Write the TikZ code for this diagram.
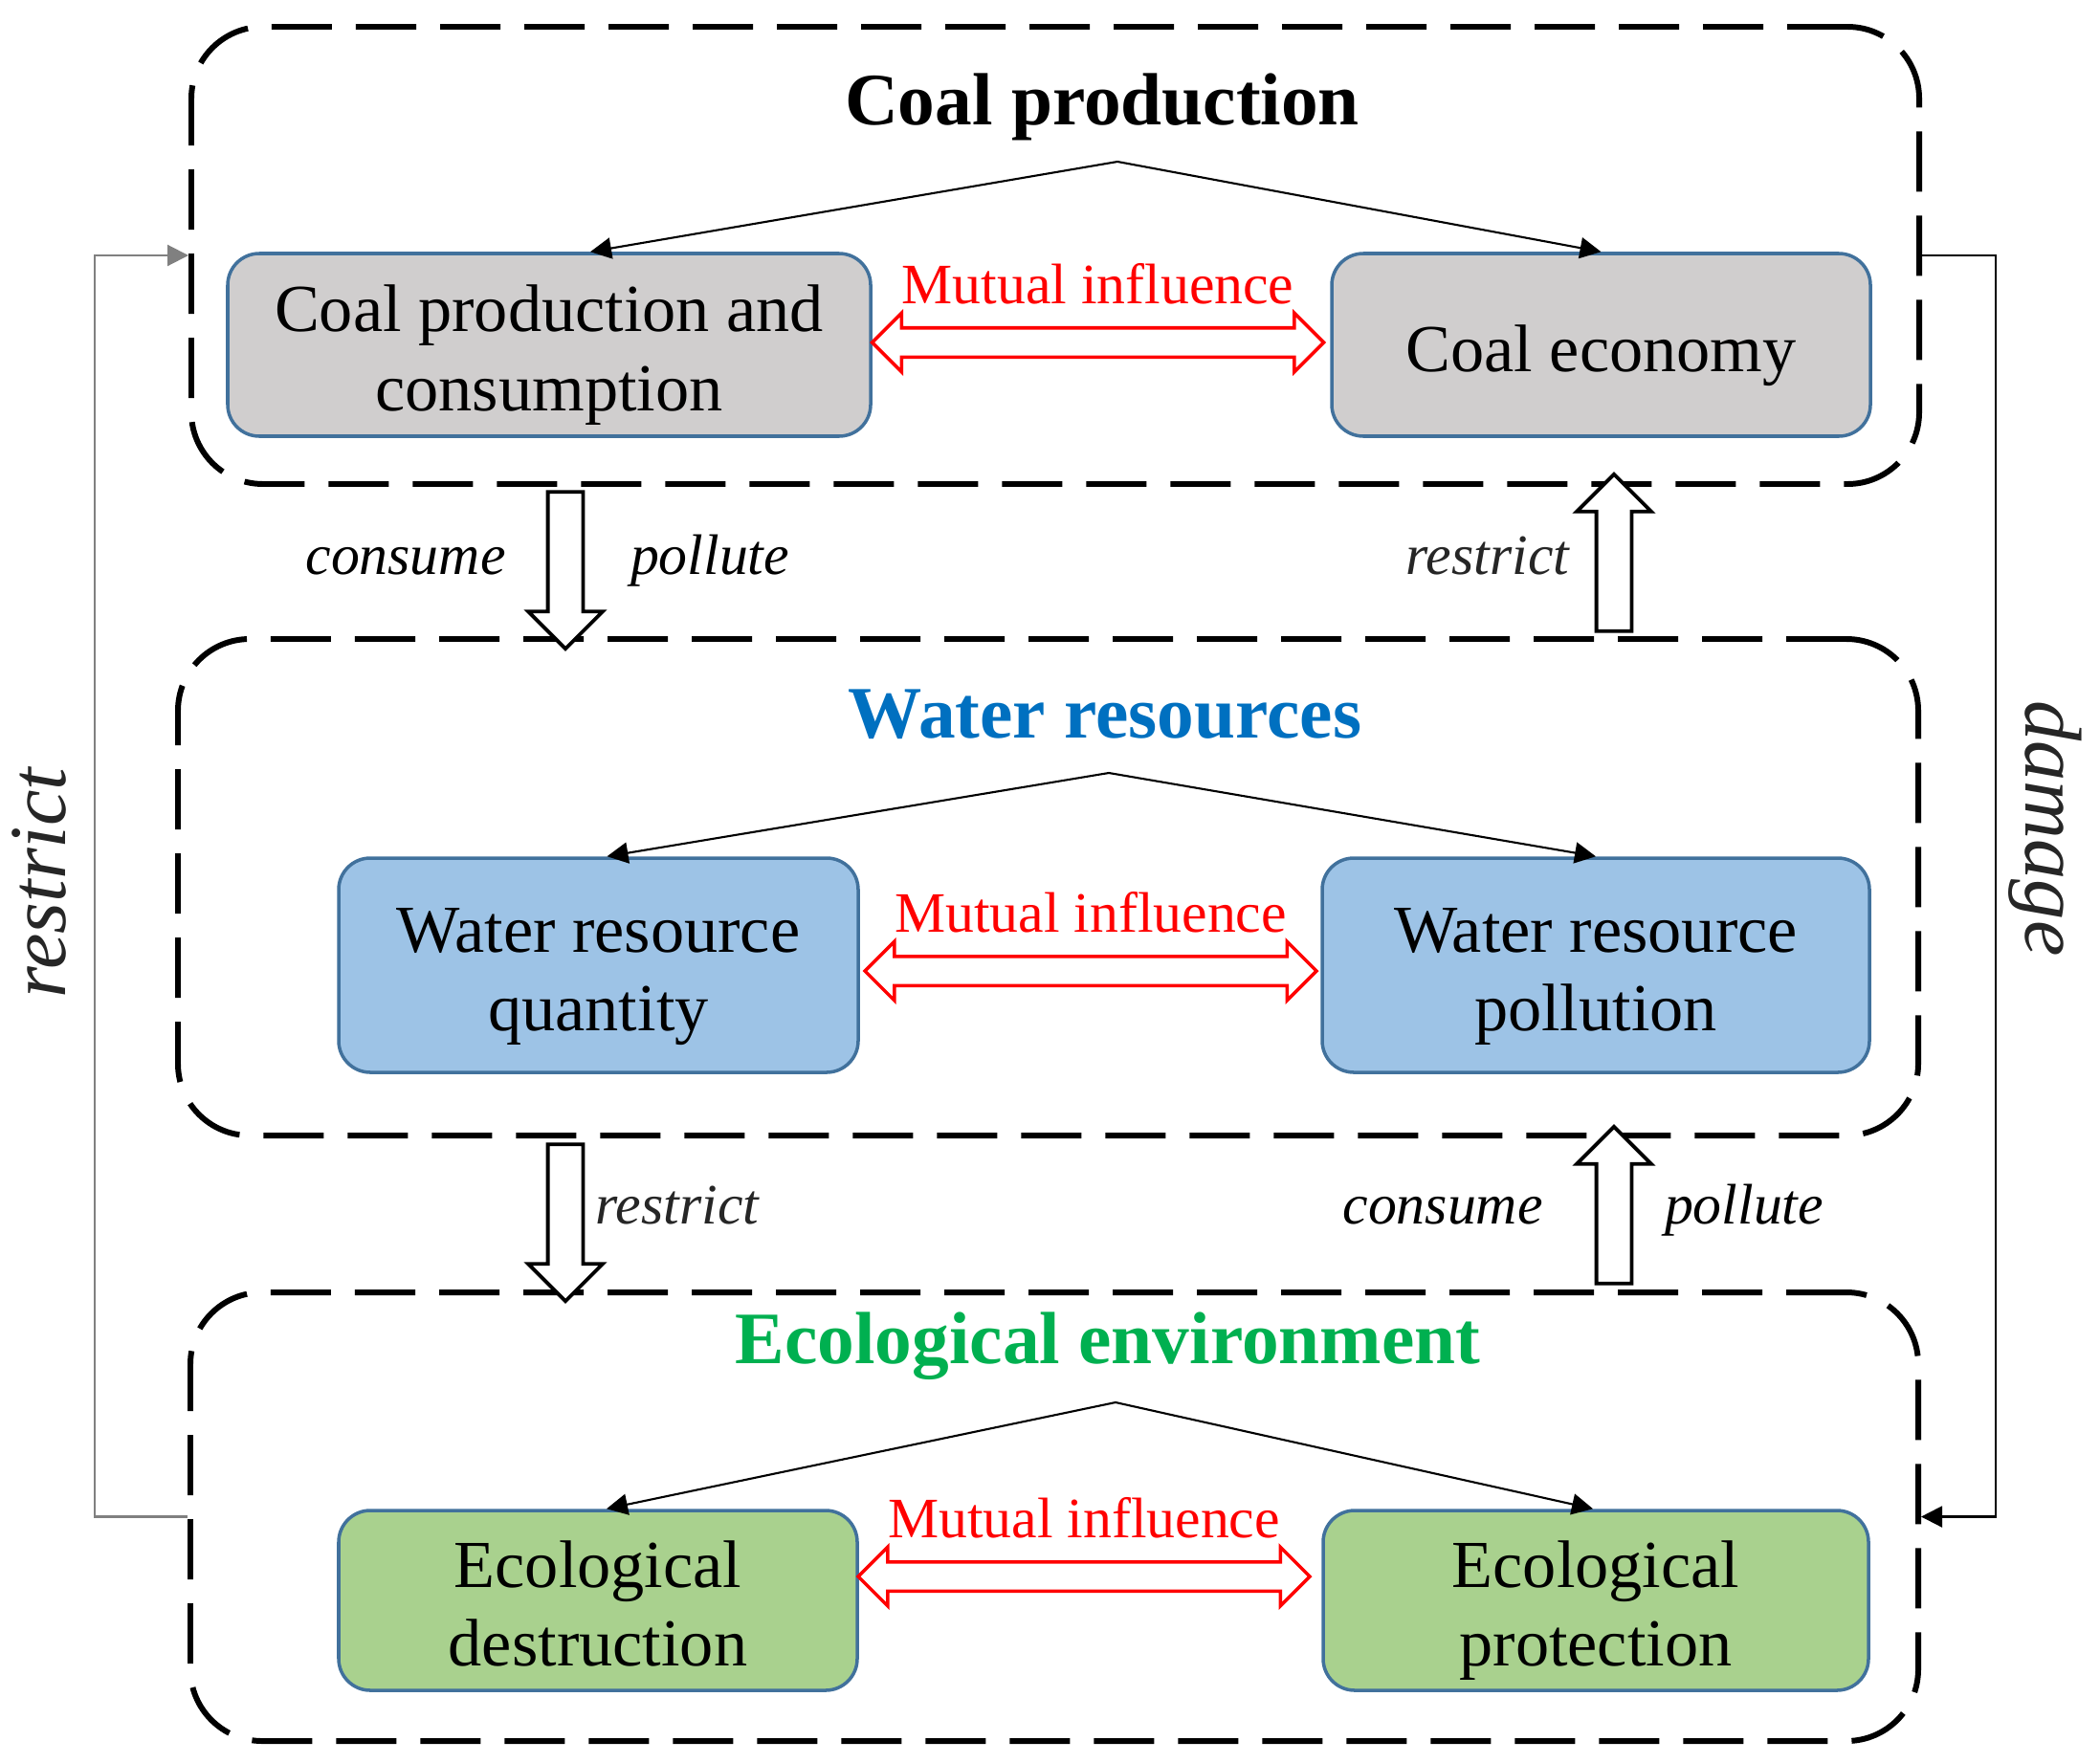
\documentclass[tikz,border=0pt]{standalone}
\usepackage{fontspec}
\setmainfont{Liberation Serif}
\usepackage{tikz}
\usetikzlibrary{arrows.meta,calc,positioning,shapes.arrows}
\definecolor{boxline}{HTML}{41719C}
\definecolor{coalfill}{HTML}{D0CECE}
\definecolor{waterfill}{HTML}{9DC3E6}
\definecolor{ecofill}{HTML}{A9D18E}
\definecolor{watertitle}{HTML}{0070C0}
\definecolor{ecotitle}{HTML}{00B050}
\newcommand{\lift}{\rule{0pt}{1em}}
\newcommand{\sink}{\rule[-0.22em]{0pt}{0.22em}}
\tikzset{
  group/.style={draw, line width=1.7pt, rounded corners=0.75cm, dash pattern=on 0.63cm off 0.25cm, inner sep=0pt},
  item/.style={draw=boxline, line width=1pt, rounded corners=0.33cm, align=center, inner sep=0pt, font=\fontsize{20}{23.5}\selectfont},
  heading/.style={font=\fontsize{22}{26}\selectfont\bfseries},
  mutual/.style={double arrow, draw=red, line width=1pt, inner xsep=0pt, inner ysep=0.135cm, double arrow head extend=0.155cm, minimum height=4.72cm},
  mutuallabel/.style={red, inner sep=0pt, font=\fontsize{17}{17}\selectfont},
  flow/.style={single arrow, draw, fill=white, line width=1.1pt, inner xsep=0pt, inner ysep=0.165cm, single arrow head extend=0.205cm, minimum height=1.64cm},
  tag/.style={anchor=base, inner sep=0pt, font=\fontsize{17}{17}\selectfont\itshape},
  bigtag/.style={anchor=base, inner sep=0pt, text=black!85, font=\fontsize{24}{24}\selectfont\itshape},
  link/.style={line width=0.6pt, -{Triangle[length=0.22cm,width=0.22cm]}},
}
\begin{document}
\begin{tikzpicture}
\useasboundingbox (0,0) rectangle (21.95,-18.42);
\node[group, minimum width=18.06cm, minimum height=4.78cm] (coalbox) at (11.03,-2.67) {};
\node[group, minimum width=18.19cm, minimum height=5.19cm] (waterbox) at (10.955,-9.275) {};
\node[group, minimum width=18.06cm, minimum height=4.69cm] (ecobox) at (11.02,-15.855) {};
\node[heading] (coaltitle) at (11.52,-1.12) {Coal production};
\node[heading, text=watertitle] (watertitle) at (11.55,-7.47) {Water resources};
\node[heading, text=ecotitle] (ecotitle) at (11.58,-14.07) {Ecological environment};
\node[item, fill=coalfill, minimum width=6.72cm, minimum height=1.91cm] (coalpc) at (5.74,-3.605) {\lift Coal production and\\consumption};
\node[item, fill=coalfill, minimum width=5.63cm, minimum height=1.91cm] (coalecon) at (16.735,-3.605) {\lift Coal economy};
\node[item, fill=waterfill, minimum width=5.43cm, minimum height=2.24cm] (waterqty) at (6.255,-10.09) {\lift Water resource\\quantity};
\node[item, fill=waterfill, minimum width=5.72cm, minimum height=2.24cm] (waterpol) at (16.68,-10.09) {\lift Water resource\\pollution};
\node[item, fill=ecofill, minimum width=5.42cm, minimum height=1.88cm] (ecodes) at (6.25,-16.73) {\lift Ecological\\destruction\sink};
\node[item, fill=ecofill, minimum width=5.70cm, minimum height=1.88cm] (ecopro) at (16.68,-16.73) {\lift Ecological\\protection};
\coordinate (capex) at (11.68,-1.69);
\coordinate (wapex) at (11.59,-8.08);
\coordinate (eapex) at (11.66,-14.66);
\draw[link] (capex) -- ($(coalpc.north)+(0.43,0)$);
\draw[link] (capex) -- (coalecon.north);
\draw[link] (wapex) -- ($(waterqty.north)+(0.09,0)$);
\draw[link] (wapex) -- (waterpol.north);
\draw[link] (eapex) -- ($(ecodes.north)+(0.09,0)$);
\draw[link] (eapex) -- ($(ecopro.north)+(-0.03,0)$);
\node[mutual] (m1) at (11.475,-3.58) {};
\node[mutual] (m2) at (11.40,-10.15) {};
\node[mutual] (m3) at (11.33,-16.48) {};
\node[mutuallabel, above=0.22cm of m1] (m1label) {Mutual influence};
\node[mutuallabel, above=0.22cm of m2] (m2label) {Mutual influence};
\node[mutuallabel, above=0.22cm of m3] (m3label) {Mutual influence};
\node[flow, rotate=-90] (down1) at (5.91,-5.87) {};
\node[flow, rotate=90] (up1) at (16.87,-5.87) {};
\node[flow, rotate=-90] (down2) at (5.91,-12.69) {};
\node[flow, rotate=90] (up2) at (16.87,-12.69) {};
\node[tag] (consume1) at (4.24,-6.00) {consume};
\node[tag] (pollute1) at (7.42,-6.00) {pollute};
\node[tag, text=black!85] (restrict1) at (15.55,-6.00) {restrict};
\node[tag, text=black!85] (restrict2) at (7.08,-12.79) {restrict};
\node[tag] (consume2) at (15.08,-12.79) {consume};
\node[tag] (pollute2) at (18.23,-12.79) {pollute};
\draw[link, gray] (ecobox.west) -- ++(-0.97,0) |- (coalbox.west);
\draw[link] (coalbox.east) -- ++(0.77,0) |- (ecobox.east);
\node[bigtag, rotate=90] (restrict3) at (0.68,-9.23) {restrict};
\node[bigtag, rotate=-90] (damage) at (21.17,-8.66) {damage};
\end{tikzpicture}
\end{document}
